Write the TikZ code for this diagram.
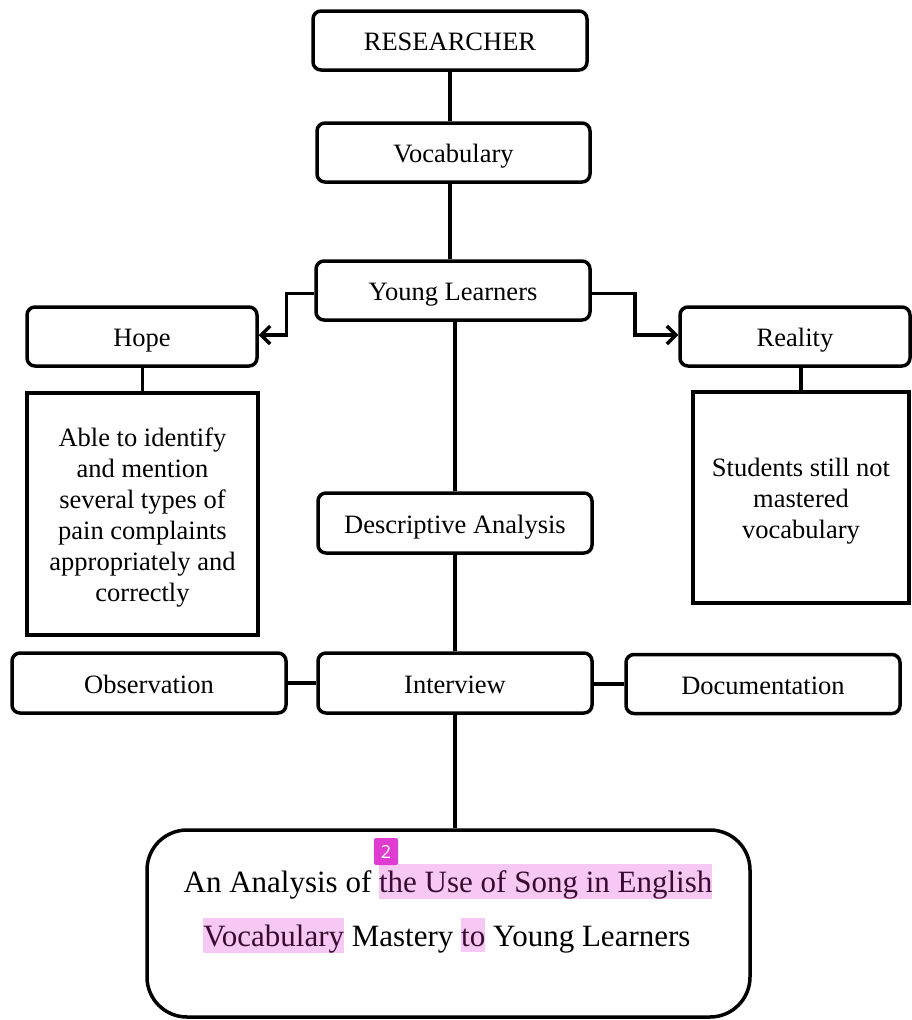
\documentclass[tikz,border=0pt]{standalone}
\usepackage{fontspec}
\setmainfont{Liberation Serif}
\newfontfamily\badgefont{Open Sans}
\usetikzlibrary{arrows.meta,calc}
\definecolor{hlpink}{HTML}{F8C8F4}
\definecolor{hltext}{HTML}{3A0A32}
\definecolor{badgemag}{HTML}{E03CD2}
\newcommand{\hlword}[1]{{\setlength{\fboxsep}{0pt}\colorbox{hlpink}{\rule[-6pt]{0pt}{34pt}\color{hltext}#1}}}
\tikzset{
  boxstyle/.style={draw, line width=3.5pt, rounded corners=8pt, inner sep=0pt,
    minimum height=59pt, text height=20.5pt, text depth=0pt,
    font=\fontsize{26.5}{31}\selectfont, align=center},
  textbox/.style={draw, line width=3.5pt, inner sep=0pt,
    font=\fontsize{26.5}{31}\selectfont, align=center},
  conn/.style={line width=3.5pt},
  arr/.style={line width=3.5pt, -{Straight Barb[length=9pt,width=18pt]}},
}
\begin{document}
\begin{tikzpicture}[x=1pt,y=-1pt]
\useasboundingbox (0,0) rectangle (912,1020);
\node[boxstyle, minimum width=274pt] (res) at (450,40.5) {RESEARCHER};
\node[boxstyle, minimum width=273pt] (voc) at (453.5,152.5) {Vocabulary};
\node[boxstyle, minimum width=274pt] (yl) at (453,290.5) {Young Learners};
\node[boxstyle, minimum width=230pt] (hope) at (142,336.5) {Hope};
\node[boxstyle, minimum width=230pt] (real) at (795,336.5) {Reality};
\node[textbox, minimum width=231pt, minimum height=242pt] (hopet) at (142.5,514)
  {\rule{0pt}{26.5pt}Able to identify\\and mention\\several types of\\pain complaints\\appropriately and\\correctly};
\node[textbox, minimum width=216pt, minimum height=211pt] (realt) at (801,497.5)
  {\rule{0pt}{26.5pt}Students still not\\mastered\\vocabulary};
\node[boxstyle, minimum width=274pt, minimum height=60pt] (desc) at (455,523) {Descriptive Analysis};
\node[boxstyle, minimum width=274pt, minimum height=60pt] (obs) at (149,683) {Observation};
\node[boxstyle, minimum width=274pt, minimum height=60pt] (int) at (455,683) {Interview};
\node[boxstyle, minimum width=274pt] (doc) at (763,684) {Documentation};
\node[draw, line width=3.5pt, rounded corners=40pt, minimum width=603pt, minimum height=187pt, inner sep=0pt] (big) at (448.5,923.5) {};
\node[anchor=base, font=\fontsize{31}{54}\selectfont, inner sep=0pt] (t1) at (448,892)
  {An Analysis of \hlword{the Use of Song in English}};
\node[anchor=base, font=\fontsize{31}{54}\selectfont, inner sep=0pt] (t2) at (447,946)
  {\hlword{Vocabulary} Mastery \hlword{to} Young Learners};
\node[fill=badgemag, rounded corners=2pt, minimum width=24pt, minimum height=27pt, inner sep=0pt,
  text=white, font=\badgefont\fontsize{18}{20}\selectfont] (badge) at (386,851.5) {2};
% connectors
\draw[conn] (res.south) -- (res.south |- voc.north);
\draw[conn] (voc.south -| res.south) -- (yl.north -| res.south);
\draw[conn] (yl.south -| desc.north) -- (desc.north);
\draw[conn] (desc.south) -- (int.north);
\draw[conn] (int.south) -- (int.south |- big.north);
\draw[conn] (obs.east) -- (int.west);
\draw[conn] (int.east |- doc.west) -- (doc.west);
\draw[conn] (hope.south -| hopet.north) -- (hopet.north);
\draw[conn] (realt.north |- real.south) -- (realt.north);
\draw[arr] ([yshift=-3pt]yl.west) -- ++(-28,0) |- ([yshift=1.5pt]hope.east);
\draw[arr] ([yshift=-3pt]yl.east) -- ++(43,0) |- ([yshift=1.5pt]real.west);
\end{tikzpicture}
\end{document}
